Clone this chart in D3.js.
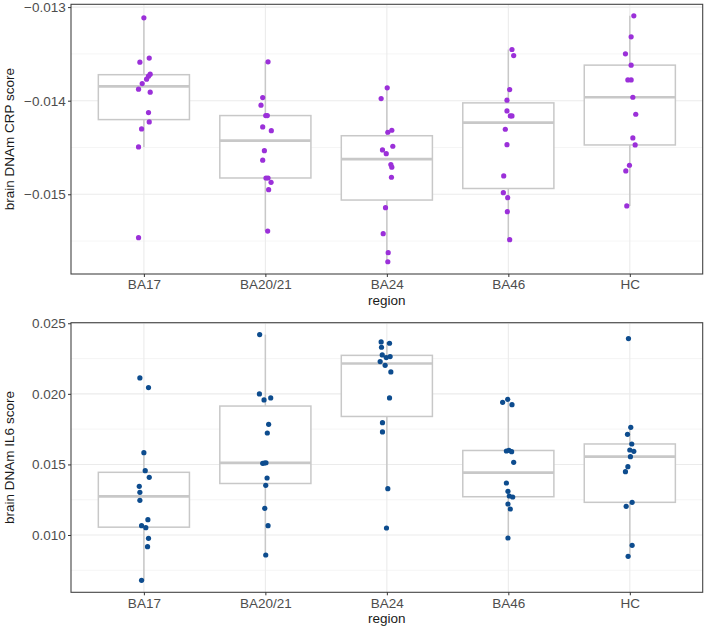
<!DOCTYPE html>
<html>
<head>
<meta charset="utf-8">
<script src="https://cdn.jsdelivr.net/npm/d3@7"></script>
<style>
  body { margin: 0; background: #fff; }
  svg { display: block; font-family: "Liberation Sans", Arial, Helvetica, sans-serif; }
</style>
</head>
<body>
<svg id="chart" width="709" height="630"></svg>
<script>
// ---------------- data ----------------
const categories = ["BA17", "BA20/21", "BA24", "BA46", "HC"];

// CRP score values per region
const crpBA17   = [-0.013114, -0.013588, -0.013545, -0.013717, -0.013738, -0.013770, -0.013817, -0.013877, -0.013909, -0.014127, -0.014227, -0.014302, -0.014494, -0.015464];
const crpBA2021 = [-0.013585, -0.013967, -0.014048, -0.014159, -0.014159, -0.014280, -0.014320, -0.014534, -0.014636, -0.014826, -0.014826, -0.014872, -0.014951, -0.015393];
const crpBA24   = [-0.013863, -0.013977, -0.014316, -0.014337, -0.014487, -0.014526, -0.014566, -0.014683, -0.014711, -0.014818, -0.015143, -0.015421, -0.015624, -0.015721];
const crpBA46   = [-0.013453, -0.013518, -0.013881, -0.013995, -0.014109, -0.014163, -0.014163, -0.014305, -0.014470, -0.014804, -0.014983, -0.015036, -0.015186, -0.015485];
const crpHC     = [-0.013093, -0.013318, -0.013499, -0.013620, -0.013778, -0.013778, -0.013963, -0.014145, -0.014398, -0.014473, -0.014690, -0.014751, -0.015125];

// horizontal jitter of each CRP point, in category units
const crpJitBA17   = [0, -0.033, 0.044, 0.052, 0.038, 0.022, -0.014, -0.044, 0.052, 0.038, 0.044, -0.019, -0.044, -0.044];
const crpJitBA2021 = [0.022, -0.022, -0.036, 0.003, 0.016, -0.022, 0.049, -0.008, -0.022, 0.005, 0.022, 0.047, 0.027, 0.019];
const crpJitBA24   = [0.003, -0.047, 0.041, 0.008, 0.049, -0.036, -0.005, 0.033, 0.041, 0.038, -0.011, -0.030, 0.011, 0.008];
const crpJitBA46   = [0.030, 0.044, 0.011, -0.011, -0.011, 0.016, 0.030, -0.025, -0.011, -0.038, -0.041, -0.005, -0.008, 0.011];
const crpJitHC     = [0.033, 0.011, -0.036, 0.011, -0.016, 0.011, 0.025, 0.049, 0.025, 0.044, -0.003, -0.033, -0.025];

// IL6 score values per region
const il6BA17   = [0.021126, 0.020441, 0.015835, 0.014560, 0.014087, 0.013449, 0.013024, 0.012457, 0.011087, 0.010662, 0.010520, 0.009764, 0.009174, 0.006789];
const il6BA2021 = [0.024196, 0.019992, 0.019567, 0.019709, 0.017843, 0.017228, 0.015080, 0.015100, 0.015120, 0.014039, 0.013520, 0.011890, 0.010662, 0.008583];
const il6BA24   = [0.023677, 0.023583, 0.023300, 0.022756, 0.022567, 0.022638, 0.022283, 0.022024, 0.021551, 0.019709, 0.017961, 0.017300, 0.013284, 0.010497];
const il6BA46   = [0.019614, 0.019402, 0.019236, 0.015953, 0.016000, 0.015906, 0.015150, 0.013686, 0.013096, 0.012765, 0.012694, 0.012198, 0.011843, 0.009788];
const il6HC     = [0.023913, 0.017630, 0.017134, 0.016449, 0.016024, 0.015930, 0.015552, 0.014843, 0.014489, 0.012316, 0.012032, 0.009269, 0.008489];

const il6JitBA17   = [-0.033, 0.038, 0, 0.011, 0.044, -0.038, -0.033, -0.033, 0.033, -0.019, 0.016, 0.038, 0.030, -0.019];
const il6JitBA2021 = [-0.047, -0.049, -0.011, 0.044, 0.027, 0.016, -0.022, -0.008, 0.005, 0.014, 0.003, -0.005, 0.022, 0.003];
const il6JitBA24   = [-0.047, 0.022, -0.044, -0.038, -0.005, 0.027, -0.055, -0.014, 0.033, 0.022, -0.036, -0.036, 0.008, -0.003];
const il6JitBA46   = [-0.005, -0.047, 0.030, -0.016, 0.005, 0.027, 0.044, -0.016, -0.003, 0.008, 0.036, -0.003, 0.016, -0.003];
const il6JitHC     = [-0.011, 0.008, -0.019, 0.016, 0, 0.033, 0.005, -0.016, -0.036, 0.019, -0.030, 0.019, -0.014];

const crpMajorTicks = [-0.015, -0.014, -0.013];
const crpMinorTicks = [-0.0155, -0.0145, -0.0135];
const il6MajorTicks = [0.010, 0.015, 0.020, 0.025];
const il6MinorTicks = [0.0075, 0.0125, 0.0175, 0.0225];

const crpDomain = [-0.015852, -0.01297];
const il6Domain = [0.005942, 0.02504];

// ---------------- drawing ----------------
const svg = d3.select("#chart");
const FONT = 13.5;

function boxStats(vals) {
  const s = vals.slice().sort(d3.ascending);
  const q1 = d3.quantileSorted(s, 0.25);
  const med = d3.quantileSorted(s, 0.5);
  const q3 = d3.quantileSorted(s, 0.75);
  const iqr = q3 - q1;
  const lo = d3.min(s.filter(v => v >= q1 - 1.5 * iqr));
  const hi = d3.max(s.filter(v => v <= q3 + 1.5 * iqr));
  return { q1, med, q3, lo, hi };
}

function drawPanel(cfg) {
  const { top, height, left, width, series, jitters, domain, majors, minors, color, ytitle } = cfg;
  const g = svg.append("g");
  const x = d3.scalePoint().domain(categories).range([left, left + width]).padding(0.6);
  const y = d3.scaleLinear().domain(domain).range([top + height, top]);
  const step = x.step();

  // background
  g.append("rect").attr("x", left).attr("y", top).attr("width", width).attr("height", height).attr("fill", "#fff");

  // minor grid
  g.selectAll(".minor").data(minors).join("line")
    .attr("x1", left).attr("x2", left + width)
    .attr("y1", d => y(d)).attr("y2", d => y(d))
    .attr("stroke", "#f2f2f2").attr("stroke-width", 0.8);
  // major grid
  g.selectAll(".majorh").data(majors).join("line")
    .attr("x1", left).attr("x2", left + width)
    .attr("y1", d => y(d)).attr("y2", d => y(d))
    .attr("stroke", "#ebebeb").attr("stroke-width", 1.1);
  g.selectAll(".majorv").data(categories).join("line")
    .attr("x1", d => x(d)).attr("x2", d => x(d))
    .attr("y1", top).attr("y2", top + height)
    .attr("stroke", "#ebebeb").attr("stroke-width", 1.1);

  const boxColor = "#c8c8c8";
  const bw = 0.75 * step;
  categories.forEach((c, i) => {
    const st = boxStats(series[i]);
    const cx = x(c);
    // whiskers
    g.append("line").attr("x1", cx).attr("x2", cx).attr("y1", y(st.q3)).attr("y2", y(st.hi))
      .attr("stroke", boxColor).attr("stroke-width", 1.5);
    g.append("line").attr("x1", cx).attr("x2", cx).attr("y1", y(st.q1)).attr("y2", y(st.lo))
      .attr("stroke", boxColor).attr("stroke-width", 1.5);
    // box
    g.append("rect").attr("x", cx - bw / 2).attr("y", y(st.q3))
      .attr("width", bw).attr("height", y(st.q1) - y(st.q3))
      .attr("fill", "#fff").attr("stroke", boxColor).attr("stroke-width", 1.5);
    // median
    g.append("line").attr("x1", cx - bw / 2).attr("x2", cx + bw / 2)
      .attr("y1", y(st.med)).attr("y2", y(st.med))
      .attr("stroke", boxColor).attr("stroke-width", 2.6);
  });

  // points
  categories.forEach((c, i) => {
    const pts = series[i].map((v, j) => ({ v, j: jitters[i][j] }));
    g.selectAll(null).data(pts).join("circle")
      .attr("cx", d => x(c) + d.j * step)
      .attr("cy", d => y(d.v))
      .attr("r", 2.6)
      .attr("fill", color);
  });

  // panel border
  g.append("rect").attr("x", left).attr("y", top).attr("width", width).attr("height", height)
    .attr("fill", "none").attr("stroke", "#444").attr("stroke-width", 1.1);

  // axes
  const yAxis = d3.axisLeft(y).tickValues(majors).tickFormat(d3.format(".3f")).tickSize(3).tickPadding(2.3);
  const ya = g.append("g").attr("transform", `translate(${left},0)`).call(yAxis);
  const xAxis = d3.axisBottom(x).tickSize(3).tickPadding(2.7);
  const xa = g.append("g").attr("transform", `translate(0,${top + height})`).call(xAxis);
  [ya, xa].forEach(a => {
    a.select(".domain").remove();
    a.selectAll(".tick line").attr("stroke", "#333").attr("stroke-width", 1);
    a.selectAll(".tick text").attr("fill", "#4d4d4d").style("font-size", FONT + "px")
      .style("font-family", '"Liberation Sans", Arial, sans-serif');
  });

  // axis titles
  g.append("text").attr("x", left + width / 2).attr("y", top + height + 31)
    .attr("text-anchor", "middle").attr("fill", "#1a1a1a").style("font-size", FONT + "px").text("region");
  g.append("text").attr("transform", `translate(13.5,${top + height / 2}) rotate(-90)`)
    .attr("text-anchor", "middle").attr("fill", "#1a1a1a").style("font-size", FONT + "px").text(ytitle);
}

drawPanel({
  top: 4.3, height: 269.7, left: 71, width: 631.7,
  series: [crpBA17, crpBA2021, crpBA24, crpBA46, crpHC],
  jitters: [crpJitBA17, crpJitBA2021, crpJitBA24, crpJitBA46, crpJitHC],
  domain: crpDomain, majors: crpMajorTicks, minors: crpMinorTicks,
  color: "#9b30d9", ytitle: "brain DNAm CRP score"
});

drawPanel({
  top: 322.7, height: 269.6, left: 71, width: 631.7,
  series: [il6BA17, il6BA2021, il6BA24, il6BA46, il6HC],
  jitters: [il6JitBA17, il6JitBA2021, il6JitBA24, il6JitBA46, il6JitHC],
  domain: il6Domain, majors: il6MajorTicks, minors: il6MinorTicks,
  color: "#0d4c8e", ytitle: "brain DNAm IL6 score"
});
</script>
</body>
</html>
